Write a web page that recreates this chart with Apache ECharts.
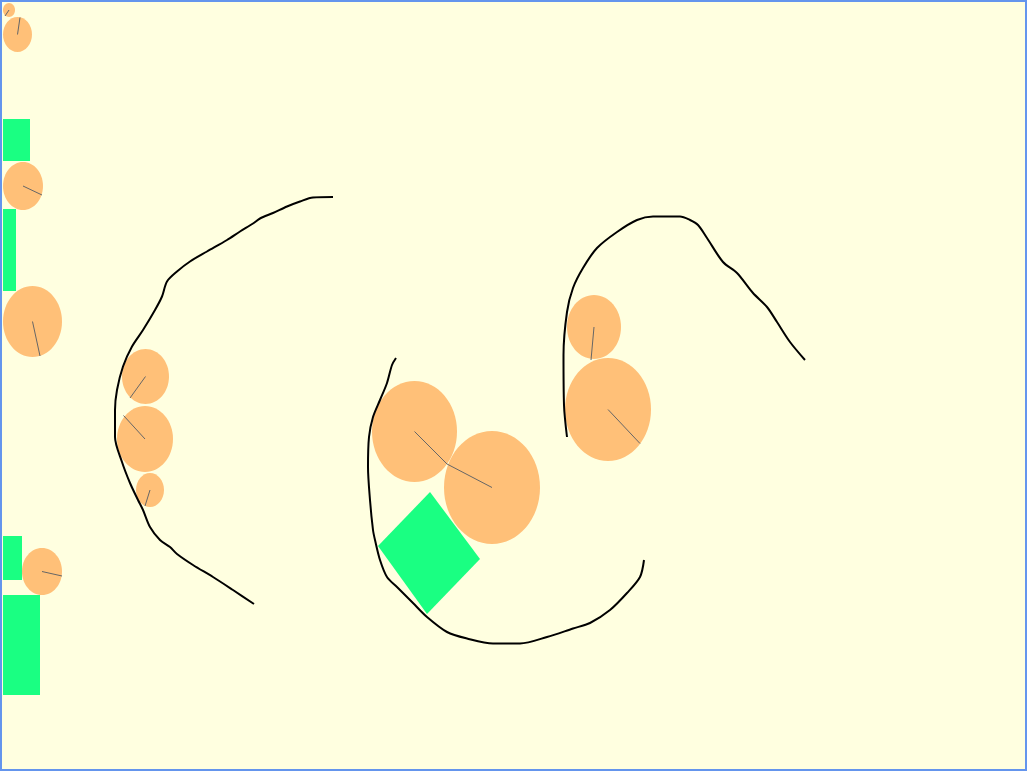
<!DOCTYPE html>
<html>
<head>
<meta charset="utf-8">
<title>shapes</title>
<script src="https://cdn.jsdelivr.net/npm/echarts@6/dist/echarts.min.js"></script>
<style>
  html, body { margin: 0; padding: 0; background: #fff; }
  #main {
    width: 1027px;
    height: 771px;
    box-sizing: border-box;
    border: 2px solid #6495ed;
  }
</style>
</head>
<body>
<div id="main"></div>
<script>
// ellipses: [cx, cy, rx, ry, handX, handY]
const ellipses = [
  [9, 10, 6, 7, 5, 16],
  [17.5, 34.5, 14.5, 17.5, 20, 17.5],
  [23, 186, 20, 24, 42, 195],
  [32.5, 321.5, 29.5, 35.5, 40, 356],
  [42, 571.5, 20, 23.5, 62, 576],
  [145.5, 376.5, 23.5, 27.5, 130, 398],
  [145, 439, 28, 33, 123.5, 415.5],
  [150, 490, 14, 17, 145, 506],
  [414.5, 431.5, 42.5, 50.5, 447, 464],
  [492, 487.5, 48, 56.5, 447, 464],
  [594, 327, 27, 32, 591, 360],
  [608, 409.5, 43, 51.5, 640, 443.5]
];

// rects: [x1, y1, x2, y2]
const rects = [
  [3, 119, 30, 161],
  [3, 209, 16, 291],
  [3, 536, 22, 580],
  [3, 595, 40, 695]
];

// rotated block corners
const block = [[430, 492], [480, 559], [427, 614], [378, 546]];

// hand drawn curves
const curveLeft = [
  [333, 197], [313, 197.5], [300, 201.5], [287, 206.5], [273, 213], [260, 218.5],
  [253, 223.5], [240, 231.5], [227, 240], [207, 251.5], [190, 261.5], [177, 271.5],
  [167, 281.5], [162, 296.5], [155, 310], [143, 330], [132, 346.5], [123, 366.5],
  [117, 390], [115, 410], [115, 437], [122, 462], [130, 483], [138, 500],
  [143, 510], [150, 527], [160, 540], [170, 547], [177, 554], [193, 565],
  [213, 577], [233, 590], [254, 604]
];
const curveMid = [
  [396, 358], [392, 365], [387, 383], [380, 400], [373, 417], [369, 437],
  [368, 467], [370, 500], [373, 530], [375, 540], [380, 560], [387, 577],
  [397, 587], [403, 593], [413, 603], [427, 617], [447, 632], [467, 638.5],
  [493, 643.5], [520, 643.5], [547, 637], [573, 628.5], [590, 623], [610, 610],
  [627, 593], [640, 577], [644, 560]
];
const curveRight = [
  [567, 437], [564, 405], [563.5, 355], [567, 312], [573, 288], [583, 268],
  [597, 248], [617, 232], [637, 220], [653, 216.5], [680, 216.5], [690, 220],
  [698, 225], [707, 238], [723, 262], [737, 273], [753, 293], [767, 307],
  [777, 322], [790, 342], [805, 360]
];

const ORANGE = '#ffc078';
const GREEN = '#1aff82';

const myChart = echarts.init(document.getElementById('main'));

const lineSeries = function (data) {
  return {
    type: 'line',
    data: data,
    smooth: 0.3,
    symbol: 'none',
    z: 10,
    lineStyle: { color: '#000', width: 2 },
    silent: true
  };
};

const option = {
  backgroundColor: '#ffffe0',
  animation: false,
  grid: { left: 0, right: 0, top: 0, bottom: 0 },
  xAxis: { type: 'value', min: 2, max: 1025, show: false },
  yAxis: { type: 'value', min: 2, max: 769, inverse: true, show: false },
  series: [
    {
      type: 'custom',
      data: rects,
      renderItem: function (params, api) {
        const p1 = api.coord([api.value(0), api.value(1)]);
        const p2 = api.coord([api.value(2), api.value(3)]);
        return {
          type: 'rect',
          shape: { x: p1[0], y: p1[1], width: p2[0] - p1[0], height: p2[1] - p1[1] },
          style: { fill: GREEN }
        };
      }
    },
    {
      type: 'custom',
      data: ellipses,
      renderItem: function (params, api) {
        const c = api.coord([api.value(0), api.value(1)]);
        const s = api.size([api.value(2), api.value(3)]);
        const h = api.coord([api.value(4), api.value(5)]);
        return {
          type: 'group',
          children: [
            {
              type: 'ellipse',
              shape: { cx: c[0], cy: c[1], rx: s[0], ry: s[1] },
              style: { fill: ORANGE }
            },
            {
              type: 'line',
              shape: { x1: c[0], y1: c[1], x2: h[0], y2: h[1] },
              style: { stroke: '#666', lineWidth: 1 }
            }
          ]
        };
      }
    },
    {
      type: 'custom',
      data: [0],
      renderItem: function (params, api) {
        return {
          type: 'polygon',
          shape: { points: block.map(function (p) { return api.coord(p); }) },
          style: { fill: GREEN }
        };
      }
    },
    lineSeries(curveLeft),
    lineSeries(curveMid),
    lineSeries(curveRight)
  ]
};

myChart.setOption(option);
window.addEventListener('resize', myChart.resize);
</script>
</body>
</html>
